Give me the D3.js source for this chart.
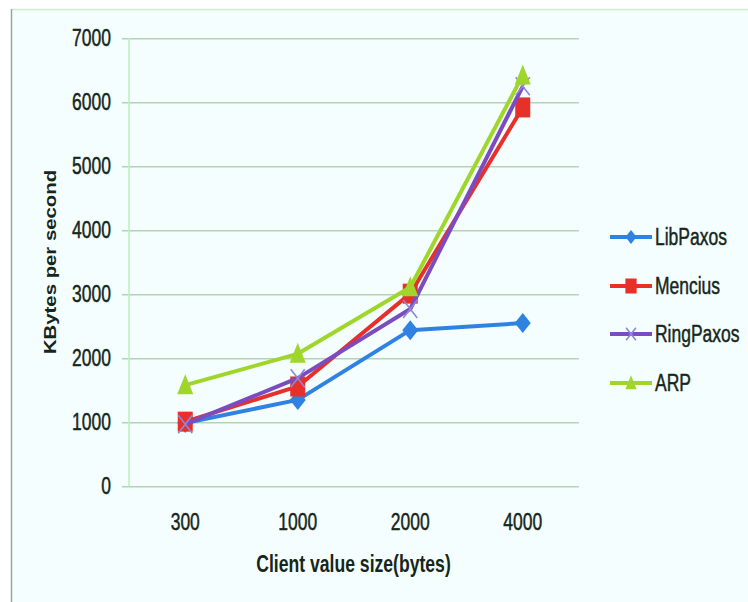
<!DOCTYPE html>
<html>
<head>
<meta charset="utf-8">
<script src="https://cdn.jsdelivr.net/npm/d3@7"></script>
<style>
  html, body { margin: 0; padding: 0; background: #ffffff; }
  svg { display: block; }
  text { font-family: "Liberation Sans", Arial, sans-serif; fill: #17261a; }
  .lbl { stroke: #17261a; stroke-width: 0.35px; }
</style>
</head>
<body>
<svg id="chart" width="748" height="602"></svg>
<script>
// Throughput by client value size
const categories = ["300", "1000", "2000", "4000"];
const seriesNames = ["LibPaxos", "Mencius", "RingPaxos", "ARP"];
const libPaxos  = [990, 1350, 2440, 2550];
const mencius   = [1010, 1560, 3010, 5920];
const ringPaxos = [970, 1690, 2770, 6250];
const arp       = [1580, 2070, 3110, 6420];
const yTicks = [0, 1000, 2000, 3000, 4000, 5000, 6000, 7000];
const colors = ["#2f82e2", "#e8302a", "#7b4cc0", "#9fd629"];
const markers = ["diamond", "square", "cross", "triangle"];

const seriesValues = [libPaxos, mencius, ringPaxos, arp];
const series = seriesNames.map((name, i) => ({
  name, color: colors[i], marker: markers[i],
  values: categories.map((c, j) => ({ cat: c, v: seriesValues[i][j] }))
}));

const svg = d3.select("#chart");
const stretch = 1.35;   // tall, narrow lettering

// panel background with left and top border
svg.append("rect").attr("x", 11).attr("y", 9).attr("width", 737).attr("height", 593)
  .attr("fill", "#f4fefe");
svg.append("line").attr("x1", 11).attr("x2", 748).attr("y1", 9.5).attr("y2", 9.5)
  .attr("stroke", "#cdeccd").attr("stroke-width", 1.5);
svg.append("line").attr("x1", 11.5).attr("x2", 11.5).attr("y1", 9).attr("y2", 602)
  .attr("stroke", "#9aa79a").attr("stroke-width", 1.5);

const x = d3.scaleBand().domain(categories).range([129, 579]).paddingInner(0).paddingOuter(0);
const y = d3.scaleLinear().domain([0, 7000]).range([486.3, 38.3]);
const cx = c => x(c) + x.bandwidth() / 2;

// horizontal gridlines with short ticks to the left of the axis
const yAxis = d3.axisLeft(y).tickValues(yTicks).tickSize(0).tickPadding(18).tickFormat(d3.format("d"));
const gy = svg.append("g").attr("transform", "translate(129,0)").call(yAxis);
gy.select(".domain").remove();
gy.selectAll(".tick").append("line")
  .attr("x1", -7).attr("x2", 450).attr("y1", 0).attr("y2", 0)
  .attr("stroke", "#b3d3b3").attr("stroke-width", 1.6);
gy.selectAll(".tick text")
  .attr("class", "lbl")
  .attr("font-size", 17.5).attr("fill", "#17261a")
  .attr("transform", `scale(1,${stretch})`);
// vertical axis line
svg.append("line").attr("x1", 129).attr("x2", 129).attr("y1", y(7000)).attr("y2", y(0))
  .attr("stroke", "#bff0bf").attr("stroke-width", 1.6);

// category labels
const xAxis = d3.axisBottom(x).tickSize(0).tickPadding(0);
const gx = svg.append("g").attr("transform", "translate(0,522)").call(xAxis);
gx.select(".domain").remove();
gx.selectAll(".tick text")
  .attr("class", "lbl")
  .attr("font-size", 17.5).attr("fill", "#17261a").attr("dy", "0.35em")
  .attr("transform", `scale(1,${stretch})`);

// axis titles
svg.append("text")
  .attr("transform", `translate(353.5,564) scale(1,${stretch})`)
  .attr("text-anchor", "middle").attr("dy", "0.35em")
  .attr("font-size", 17.6).attr("font-weight", "bold")
  .text("Client value size(bytes)");
svg.append("text")
  .attr("transform", `translate(50,262) scale(1,${stretch * 0.93}) rotate(-90)`)
  .attr("text-anchor", "middle").attr("dy", "0.35em")
  .attr("font-size", 16.2).attr("font-weight", "bold")
  .text("KBytes per second");

// marker shapes (slightly taller than wide)
function drawMarker(g, type, color, scale) {
  const s = scale || 1;
  if (type === "diamond") {
    g.append("path").attr("d", `M0,${-10*s} L${8*s},0 L0,${10*s} L${-8*s},0 Z`).attr("fill", color);
  } else if (type === "square") {
    g.append("rect").attr("x", -7.5*s).attr("y", -10*s).attr("width", 15*s).attr("height", 20*s).attr("fill", color);
  } else if (type === "triangle") {
    g.append("path").attr("d", `M0,${-11*s} L${8*s},${9*s} L${-8*s},${9*s} Z`).attr("fill", color);
  } else if (type === "cross") {
    g.append("path").attr("d", `M${-7*s},${-9*s} L${7*s},${9*s} M${7*s},${-9*s} L${-7*s},${9*s}`)
      .attr("stroke", "#8f86d6").attr("stroke-width", 1.6).attr("fill", "none");
  }
}

const line = d3.line().x(d => cx(d.cat)).y(d => y(d.v));

series.forEach(s => {
  const g = svg.append("g");
  g.append("path").datum(s.values).attr("d", line)
    .attr("fill", "none").attr("stroke", s.color).attr("stroke-width", 4)
    .attr("stroke-linejoin", "round");
  s.values.forEach(d => {
    const m = g.append("g").attr("transform", `translate(${cx(d.cat)},${y(d.v)})`);
    drawMarker(m, s.marker, s.color, 1);
  });
});

// legend
const legendY = [237, 286, 334, 383];
series.forEach((s, i) => {
  const g = svg.append("g").attr("transform", `translate(610,${legendY[i]})`);
  g.append("line").attr("x1", 0).attr("x2", 42).attr("y1", 0).attr("y2", 0)
    .attr("stroke", s.color).attr("stroke-width", 4);
  const m = g.append("g").attr("transform", "translate(21,0)");
  drawMarker(m, s.marker, s.color, s.marker === "square" ? 0.75 : 0.7);
  g.append("text").attr("class", "lbl").attr("x", 45).attr("dy", "0.35em")
    .attr("font-size", 17.5).attr("transform", `scale(1,${stretch})`)
    .attr("y", 0)
    .text(s.name);
});
</script>
</body>
</html>
